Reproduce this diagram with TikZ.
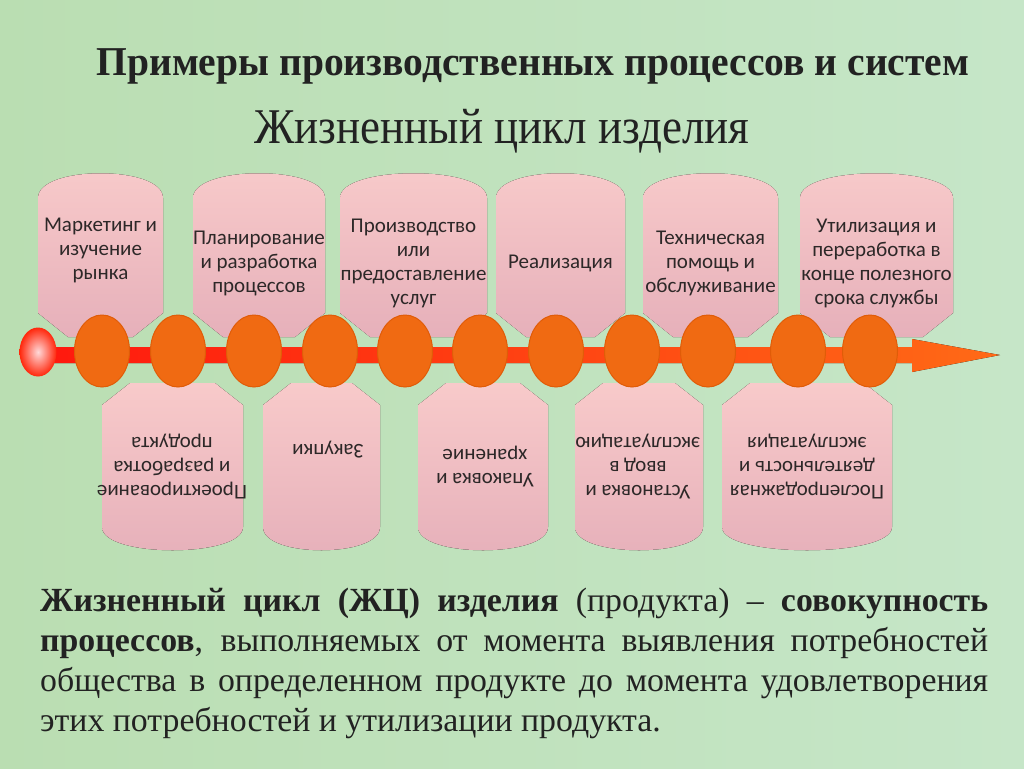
\documentclass[tikz,border=0pt]{standalone}
\usepackage{fontspec}
\usepackage{graphicx}
\setmainfont{Liberation Serif}
\newfontfamily\boxfont{Carlito}
\usetikzlibrary{shapes.geometric}

\definecolor{bgleft}{RGB}{186,222,178}
\definecolor{bgmid}{RGB}{210,228,186}
\definecolor{bgright}{RGB}{198,230,200}
\definecolor{tablight}{RGB}{248,202,202}
\definecolor{tabdark}{RGB}{230,176,186}
\definecolor{beadfill}{RGB}{240,106,18}
\definecolor{beadedge}{RGB}{224,92,8}
\definecolor{shaftleft}{RGB}{255,24,14}
\definecolor{shaftright}{RGB}{255,106,22}
\definecolor{inktext}{RGB}{34,34,34}
\definecolor{boxtext}{RGB}{45,40,40}

\tikzset{
  tabfill/.style={top color=tablight, bottom color=tabdark},
  bead/.style={ellipse, minimum width=55pt, minimum height=72pt, inner sep=0pt,
    fill=beadfill, draw=beadedge, line width=1pt},
  tabtext/.style={font=\boxfont\fontsize{21}{24}\selectfont, text=boxtext,
    align=center, inner sep=0pt},
  para/.style={font=\fontsize{33.8}{40}\selectfont, text=inktext,
    text width=948pt, align=justify, inner sep=0pt}
}

% upper tab: arched top, cut lower corners
\newcommand\tabup[2]{\fill[tabfill] (#1,198) .. controls (#1,165) and (#2,165) .. (#2,198)
  -- (#2,313) -- (#2-30,337) -- (#1+30,337) -- (#1,313) -- cycle;}
% lower tab: cut upper corners, arched bottom
\newcommand\tabdown[2]{\fill[tabfill] (#1,405) -- (#1+28,383) -- (#2-28,383) -- (#2,405)
  -- (#2,527) .. controls (#2,558) and (#1,558) .. (#1,527) -- cycle;}

\begin{document}
\begin{tikzpicture}[x=1pt,y=-1pt]
  \useasboundingbox (0,0) rectangle (1024,768);
  \shade[left color=bgleft, middle color=bgmid, right color=bgright] (0,0) rectangle (1024,768);

  % titles
  \node[anchor=base, text=inktext, inner sep=0pt] (title) at (533,75)
    {\resizebox{873pt}{\height}{\fontsize{41}{44}\selectfont\bfseries Примеры производственных процессов и систем}};
  \node[anchor=base, text=inktext, inner sep=0pt] (subtitle) at (502,143)
    {\resizebox{495pt}{\height}{\fontsize{50}{54}\selectfont Жизненный цикл изделия}};

  % tabs above the line
  \tabup{38}{163}
  \tabup{193}{325}
  \tabup{340}{487}
  \tabup{496}{625}
  \tabup{643}{778}
  \tabup{800}{953}

  % tabs below the line
  \tabdown{102}{243}
  \tabdown{263}{380}
  \tabdown{418}{548}
  \tabdown{575}{703}
  \tabdown{722}{892}

  % time line
  \fill[left color=shaftleft, right color=shaftright]
    (38,347) -- (912,347) -- (912,339) -- (1000,355) -- (912,372) -- (912,363) -- (38,363) -- cycle;
  \foreach \cx [count=\i] in {102,178,254,330,405,480,556,632,708,798,870}
    \node[bead] (bead\i) at (\cx,351) {};
  \node[ellipse, minimum width=37pt, minimum height=49pt, inner sep=0pt,
    inner color=white!85!red, outer color=shaftleft!85!orange] (start) at (38,352) {};

  % upper labels
  \node[tabtext] (up1) at (100.5,250) {Маркетинг и\\изучение\\рынка};
  \node[tabtext] (up2) at (259,263) {Планирование\\и разработка\\процессов};
  \node[tabtext] (up3) at (413.5,263) {Производство\\или\\предоставление\\услуг};
  \node[tabtext] (up4) at (560.5,263) {Реализация};
  \node[tabtext] (up5) at (710.5,263) {Техническая\\помощь и\\обслуживание};
  \node[tabtext] (up6) at (876.5,263) {Утилизация и\\переработка в\\конце полезного\\срока службы};

  % lower labels, upside down
  \node[tabtext, rotate=180] (down1) at (172,467) {Проектирование\\и разработка\\продукта};
  \node[tabtext, rotate=180] (down2) at (328,450) {Закупки};
  \node[tabtext, rotate=180] (down3) at (485,467) {Упаковка и\\хранение};
  \node[tabtext, rotate=180] (down4) at (638,467) {Установка и\\ввод в\\эксплуатацию};
  \node[tabtext, rotate=180] (down5) at (807,467) {Послепродажная\\деятельность и\\эксплуатация};

  % definition
  \node[para, anchor=north west] (defn) at (40,588)
    {\hyphenpenalty=10000\relax
     \textbf{Жизненный цикл (ЖЦ) изделия} (продукта) – \textbf{совокупность}\linebreak
     \textbf{процессов}, выполняемых от момента выявления потребностей\linebreak
     общества в определенном продукте до момента удовлетворения\linebreak
     этих потребностей и утилизации продукта.};
\end{tikzpicture}
\end{document}
